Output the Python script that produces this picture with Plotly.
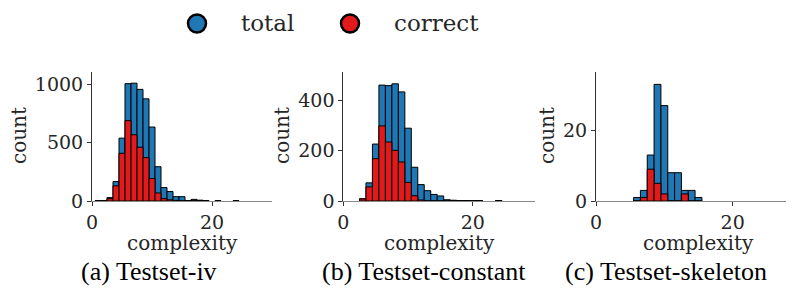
import plotly.graph_objects as go

W, H = 794, 292
OFF = 8  # page body margin of the browser

# ---------------- data ----------------
iv_x = [1, 2, 3, 4, 5, 6, 7, 8, 9, 10, 11, 12, 13, 14, 15, 16, 17, 18, 19, 21, 24]
iv_total = [2, 3, 29, 167, 539, 1006, 1010, 957, 876, 634, 294, 115, 81, 37, 37, 4, 14, 7, 4, 2, 2]
iv_correct = [0, 0, 20, 130, 409, 689, 568, 461, 372, 193, 69, 20, 10, 5, 0, 0, 0, 0, 0, 0, 0]

const_x = [3, 4, 5, 6, 7, 8, 9, 10, 11, 12, 13, 14, 15, 16, 17, 18, 19, 20, 21, 24]
const_total = [9, 72, 226, 460, 458, 465, 433, 289, 134, 65, 41, 26, 20, 5, 3, 2, 2, 1, 2, 2]
const_correct = [8, 56, 168, 298, 234, 201, 155, 74, 21, 4, 0, 0, 0, 0, 0, 0, 0, 0, 0, 0]

skel_x = [6, 7, 8, 9, 10, 11, 12, 13, 14, 15]
skel_total = [1, 3, 13, 33, 27, 8, 8, 3, 3, 1]
skel_correct = [0, 1, 9, 5, 2, 0, 0, 2, 0, 0]

captions = ["(a) Testset-iv", "(b) Testset-constant", "(c) Testset-skeleton"]
y_ticks = [[0, 500, 1000], [0, 200, 400], [0, 20]]
x_ticks = [0, 20]
series_names = ["total", "correct"]

# ---------------- style ----------------
BLUE = "#1f77b4"
RED = "#e31a1c"
TXT = "#262626"
SERIF = "DejaVu Serif"
TIMES = "'Liberation Serif', 'Noto Serif', 'DejaVu Serif'"


def fx(px):
    return (px - OFF) / W


def fy(py):
    return (H - (py - OFF)) / H


panels = [
    dict(x=iv_x, t=iv_total, c=iv_correct, dom=(fx(92), fx(272)), xr=[0, 30], yr=[0, 1106]),
    dict(x=const_x, t=const_total, c=const_correct, dom=(fx(343.3), fx(535)), xr=[0, 29.6], yr=[0, 512]),
    dict(x=skel_x, t=skel_total, c=skel_correct, dom=(fx(596), fx(801)), xr=[0, 30], yr=[0, 36.5]),
]
ydom = (fy(201), fy(72))
count_x = [19, 282, 547]
caption_x = [149, 424, 666]

fig = go.Figure()
layout = dict(
    width=W, height=H,
    margin=dict(l=0, r=0, t=0, b=0),
    paper_bgcolor="white", plot_bgcolor="white",
    barmode="overlay", showlegend=False,
    font=dict(family=SERIF, size=19, color=TXT),
)
annotations = []
shapes = []

for i, p in enumerate(panels):
    xa = "x" if i == 0 else f"x{i + 1}"
    ya = "y" if i == 0 else f"y{i + 1}"
    fig.add_trace(go.Bar(x=p["x"], y=p["t"], width=1, name=series_names[0],
                         marker=dict(color=BLUE, line=dict(color="black", width=1)),
                         xaxis=xa, yaxis=ya))
    fig.add_trace(go.Bar(x=p["x"], y=p["c"], width=1, name=series_names[1],
                         marker=dict(color=RED, line=dict(color="black", width=1)),
                         xaxis=xa, yaxis=ya))
    xkey = "xaxis" if i == 0 else f"xaxis{i + 1}"
    ykey = "yaxis" if i == 0 else f"yaxis{i + 1}"
    layout[xkey] = dict(domain=list(p["dom"]), range=p["xr"], anchor=ya,
                        tickvals=x_ticks, ticks="outside", ticklen=4, tickcolor="#333",
                        showline=True, linecolor="#888", linewidth=1,
                        showgrid=False, zeroline=False, automargin=False,
                        tickfont=dict(family=SERIF, size=19, color=TXT))
    layout[ykey] = dict(domain=list(ydom), range=p["yr"], anchor=xa,
                        tickvals=y_ticks[i], ticks="outside", ticklen=4, tickcolor="#333",
                        showline=True, linecolor="#333", linewidth=1,
                        showgrid=False, zeroline=False, automargin=False,
                        tickfont=dict(family=SERIF, size=19, color=TXT))
    # axis titles
    annotations.append(dict(text="complexity", xref=f"{xa} domain", yref="paper",
                            x=0.5, y=fy(243), xanchor="center", yanchor="middle",
                            showarrow=False, font=dict(family=SERIF, size=20, color=TXT)))
    annotations.append(dict(text="count", xref="paper", yref="paper", textangle=-90,
                            x=fx(count_x[i]), y=fy(136), xanchor="center", yanchor="middle",
                            showarrow=False, font=dict(family=SERIF, size=20, color=TXT)))
    annotations.append(dict(text=captions[i], xref="paper", yref="paper",
                            x=fx(caption_x[i]), y=fy(271), xanchor="center", yanchor="middle",
                            showarrow=False,
                            font=dict(family=TIMES, size=26, color="black")))

# legend (manual, top center)
leg = [(197, BLUE, series_names[0], 239), (350, RED, series_names[1], 392)]
for cx, col, name, tx in leg:
    r = 9
    cy = 23.5
    shapes.append(dict(type="circle", xref="paper", yref="paper",
                       x0=fx(cx - r), x1=fx(cx + r),
                       y0=fy(cy + r), y1=fy(cy - r),
                       fillcolor=col, line=dict(color="black", width=2.5)))
    annotations.append(dict(text=name, xref="paper", yref="paper",
                            x=fx(tx), y=fy(23), xanchor="left", yanchor="middle",
                            showarrow=False, font=dict(family=SERIF, size=23, color=TXT)))

layout["annotations"] = annotations
layout["shapes"] = shapes
fig.update_layout(**layout)
fig.write_html("out.html")
